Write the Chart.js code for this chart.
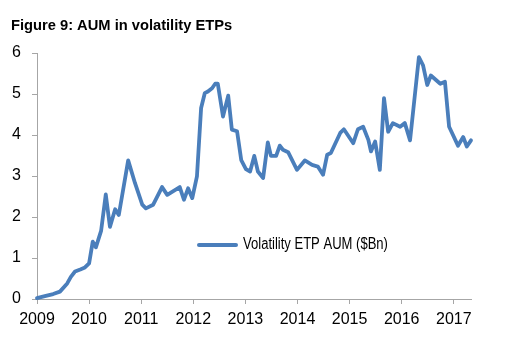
<!DOCTYPE html>
<html>
<head>
<meta charset="utf-8">
<script src="https://cdn.jsdelivr.net/npm/chart.js@4/dist/chart.umd.min.js"></script>
<style>
  html, body { margin: 0; padding: 0; background: #ffffff; }
  #wrap { position: relative; width: 515px; height: 339px; }
</style>
</head>
<body>
<div id="wrap"><canvas id="c" width="515" height="339"></canvas></div>
<script>
// ---- data ----
const titleText = "Figure 9: AUM in volatility ETPs";
const seriesLabel = "Volatility ETP AUM ($Bn)";
const yearTicks = [2009, 2010, 2011, 2012, 2013, 2014, 2015, 2016, 2017];
const valueTicks = [0, 1, 2, 3, 4, 5, 6];
const dates = [
  2009.00, 2009.15, 2009.31, 2009.44, 2009.58, 2009.65, 2009.73, 2009.83, 2009.92,
  2010.00, 2010.07, 2010.13, 2010.23, 2010.32, 2010.40, 2010.50, 2010.57, 2010.75, 2010.88,
  2011.02, 2011.09, 2011.23, 2011.40, 2011.50, 2011.74, 2011.82, 2011.90, 2011.98,
  2012.07, 2012.15, 2012.22, 2012.28, 2012.36, 2012.42, 2012.47, 2012.57, 2012.67, 2012.74, 2012.84, 2012.92,
  2013.01, 2013.09, 2013.17, 2013.24, 2013.34, 2013.43, 2013.49, 2013.59, 2013.66, 2013.72, 2013.82, 2013.99,
  2014.14, 2014.28, 2014.39, 2014.49, 2014.57, 2014.64, 2014.82, 2014.89,
  2015.07, 2015.16, 2015.26, 2015.36, 2015.41, 2015.49, 2015.58, 2015.66, 2015.74, 2015.83, 2015.97,
  2016.06, 2016.16, 2016.33, 2016.41, 2016.49, 2016.56, 2016.74, 2016.83, 2016.91,
  2017.08, 2017.18, 2017.25, 2017.33
];
const aum = [
  0.02, 0.07, 0.12, 0.18, 0.38, 0.54, 0.67, 0.72, 0.77,
  0.87, 1.40, 1.26, 1.66, 2.55, 1.76, 2.19, 2.05, 3.38, 2.83,
  2.30, 2.21, 2.30, 2.73, 2.54, 2.73, 2.42, 2.70, 2.46,
  2.99, 4.66, 5.02, 5.06, 5.14, 5.25, 5.25, 4.45, 4.96, 4.13, 4.09, 3.39,
  3.17, 3.11, 3.49, 3.11, 2.95, 3.82, 3.49, 3.49, 3.74, 3.64, 3.58, 3.15,
  3.38, 3.27, 3.23, 3.03, 3.52, 3.56, 4.05, 4.14,
  3.80, 4.14, 4.20, 3.88, 3.60, 3.84, 3.15, 4.90, 4.08, 4.29, 4.20,
  4.29, 3.87, 5.90, 5.70, 5.22, 5.45, 5.25, 5.30, 4.20,
  3.74, 3.95, 3.72, 3.87
];

const lineColor = '#4a7ebb';
const axisColor = '#a6a6a6';
const baseFont = "'Liberation Sans', Arial, sans-serif";

const overlay = {
  id: 'overlay',
  afterDraw(chart) {
    const ctx = chart.ctx;
    ctx.save();
    // title
    ctx.fillStyle = '#000';
    ctx.font = "bold 14.7px " + baseFont;
    ctx.textBaseline = 'alphabetic';
    ctx.textAlign = 'left';
    ctx.fillText(titleText, 11, 30);
    // legend inside plot
    const ds = chart.data.datasets[0];
    ctx.strokeStyle = ds.borderColor;
    ctx.lineWidth = 4;
    ctx.lineCap = 'round';
    ctx.beginPath();
    ctx.moveTo(199, 245);
    ctx.lineTo(236, 245);
    ctx.stroke();
    ctx.font = "16px " + baseFont;
    ctx.textBaseline = 'middle';
    ctx.translate(243, 245);
    ctx.scale(0.815, 1);
    ctx.fillText(ds.label, 0, 0);
    ctx.restore();
  }
};

new Chart(document.getElementById('c'), {
  type: 'line',
  data: {
    datasets: [{
      label: seriesLabel,
      data: dates.map((d, i) => ({ x: d, y: aum[i] })),
      borderColor: lineColor,
      backgroundColor: lineColor,
      borderWidth: 3.8,
      pointRadius: 0,
      tension: 0,
      borderJoinStyle: 'round',
      borderCapStyle: 'round',
      clip: false
    }]
  },
  options: {
    responsive: false,
    animation: false,
    devicePixelRatio: 1,
    layout: { padding: { top: 53, right: 44, bottom: 0, left: 0 } },
    plugins: { legend: { display: false }, title: { display: false }, tooltip: { enabled: false } },
    scales: {
      x: {
        type: 'linear',
        min: 2009,
        max: 2017.33,
        afterFit(s) { s.height = 40; },
        afterBuildTicks(s) { s.ticks = yearTicks.map(v => ({ value: v })); },
        grid: { drawOnChartArea: false, drawTicks: true, tickLength: 5, color: axisColor },
        border: { color: axisColor, width: 1 },
        ticks: {
          color: '#000',
          padding: 6,
          maxRotation: 0,
          autoSkip: false,
          font: { family: baseFont, size: 16 },
          callback: v => String(v)
        }
      },
      y: {
        min: 0,
        max: 6,
        afterFit(s) { s.width = 37; },
        afterBuildTicks(s) { s.ticks = valueTicks.map(v => ({ value: v })); },
        grid: { drawOnChartArea: false, drawTicks: true, tickLength: 5, color: axisColor },
        border: { color: axisColor, width: 1 },
        ticks: {
          color: '#000',
          padding: 11,
          font: { family: baseFont, size: 16 },
          callback: v => String(v)
        }
      }
    }
  },
  plugins: [overlay]
});
</script>
</body>
</html>
